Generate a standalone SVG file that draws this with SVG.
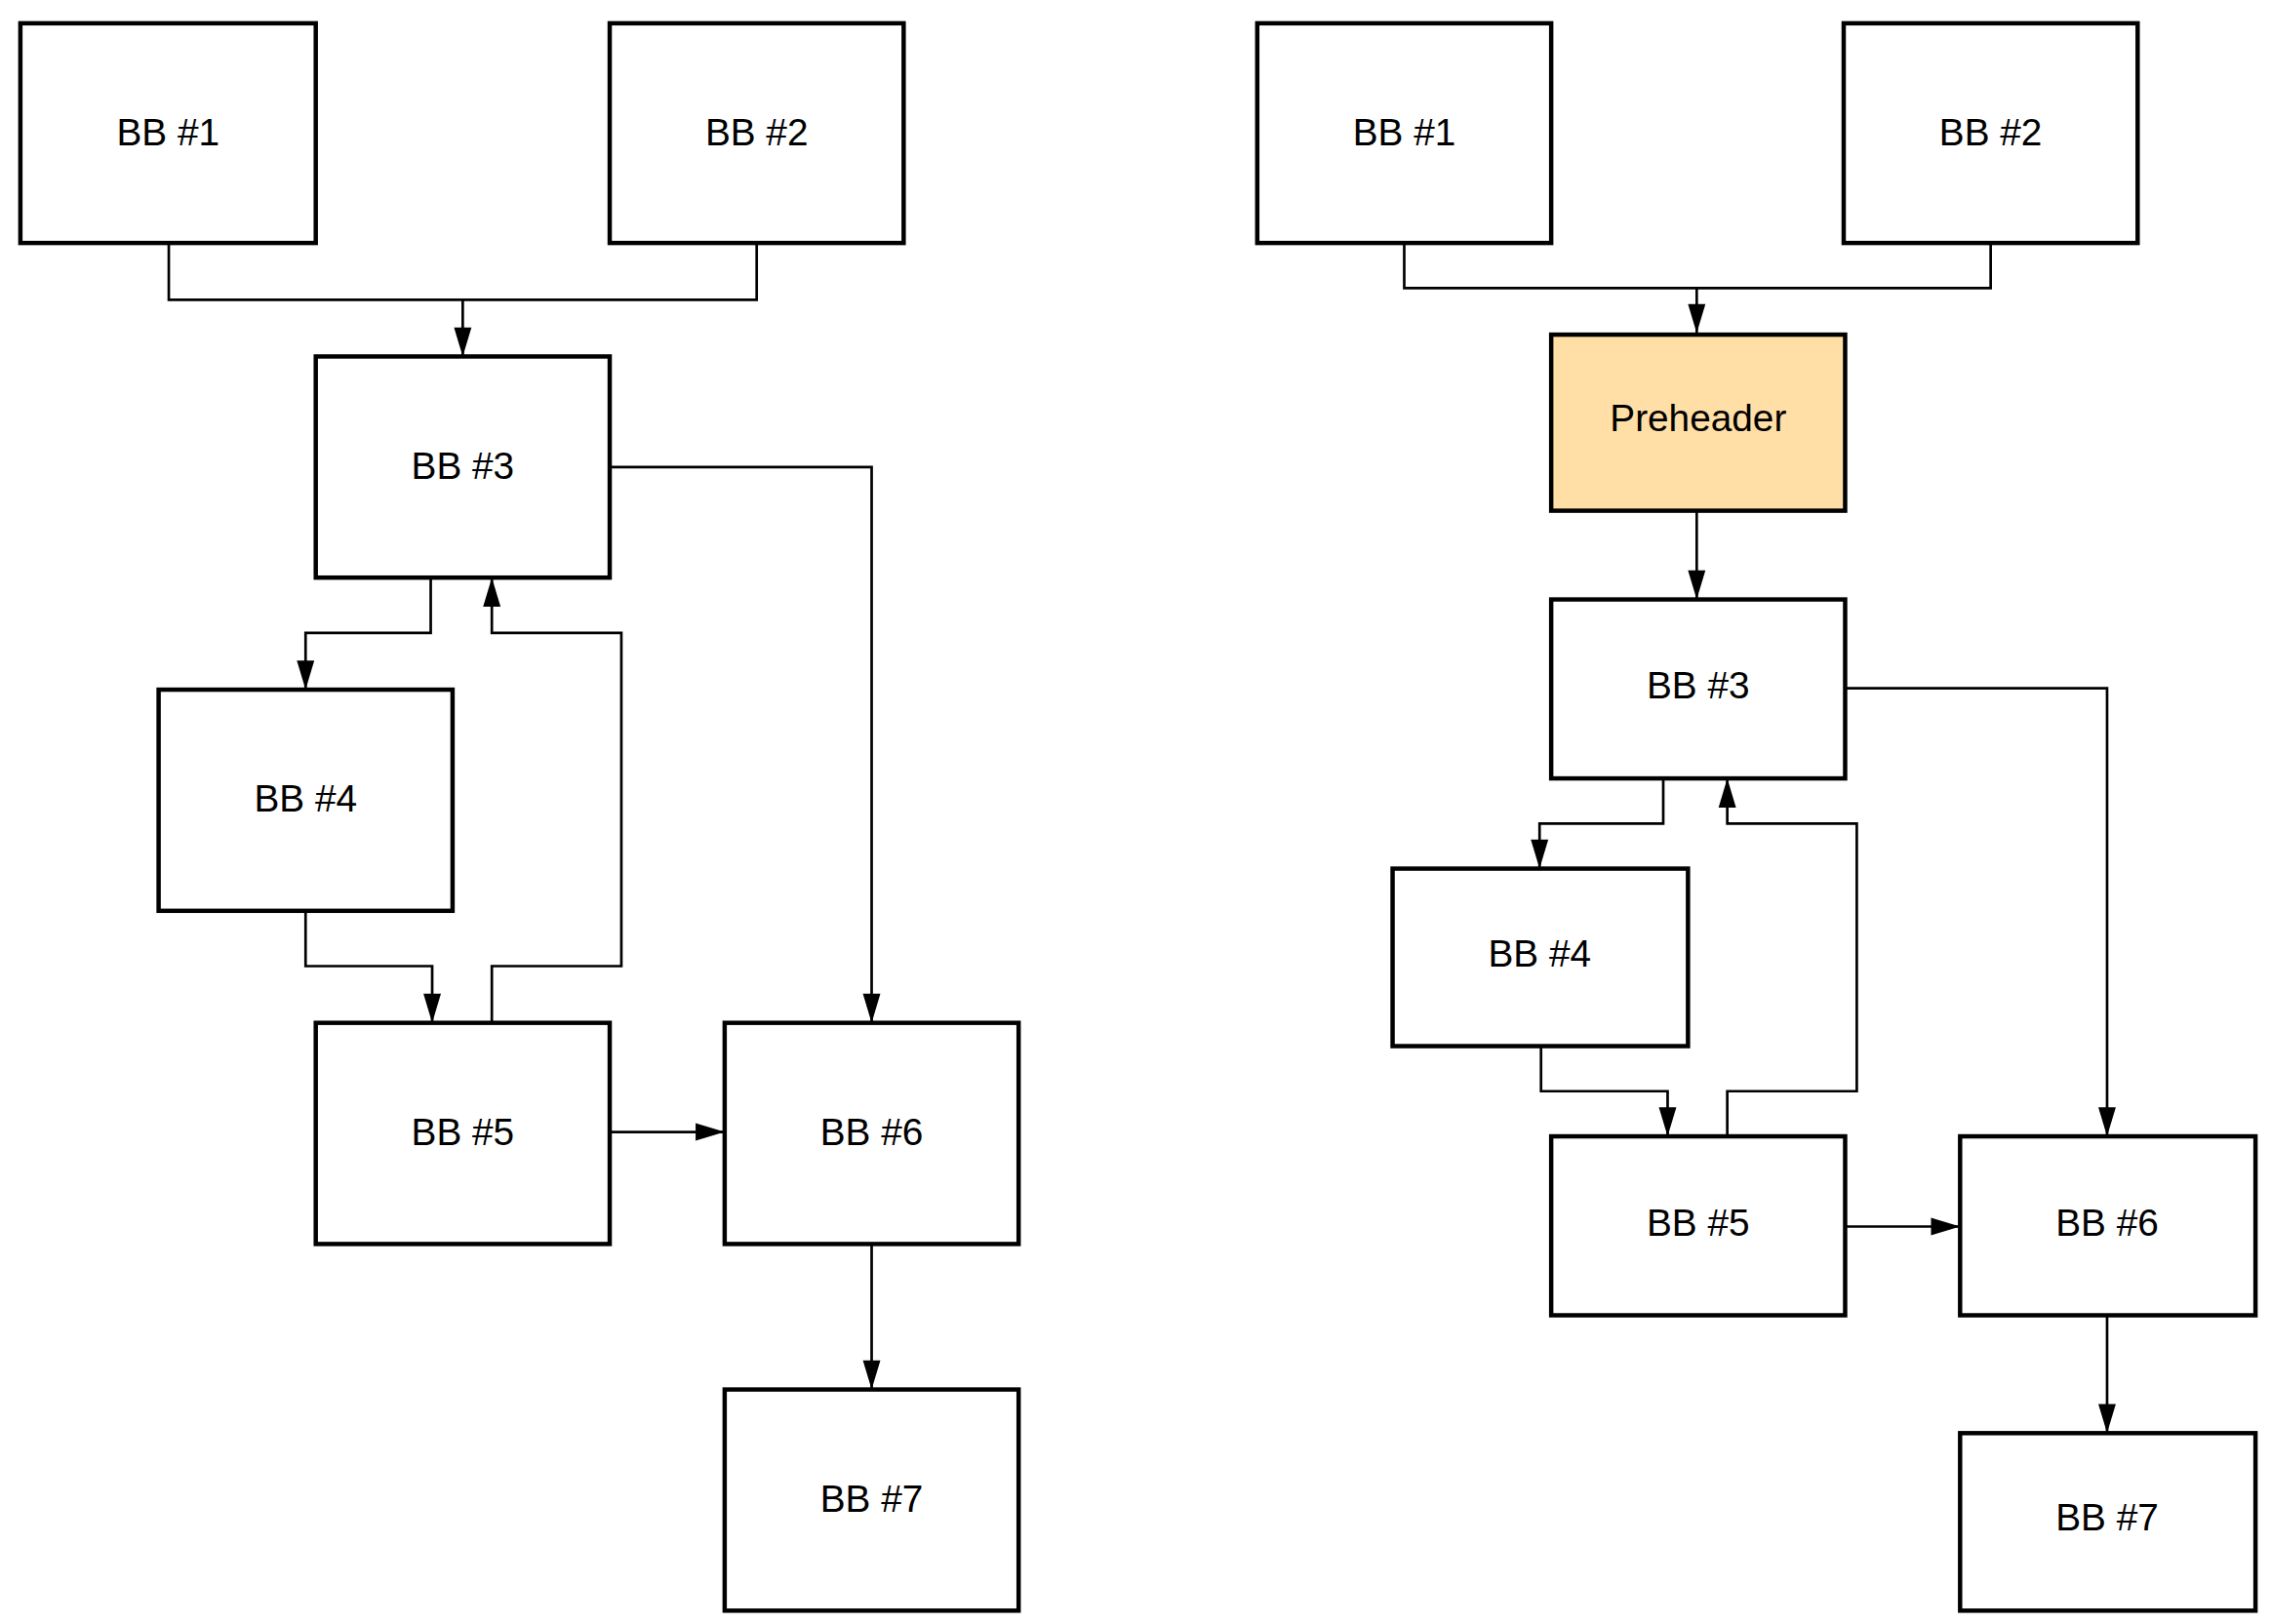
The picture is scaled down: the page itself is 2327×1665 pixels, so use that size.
<svg xmlns="http://www.w3.org/2000/svg" width="2327" height="1665" viewBox="0 0 2327 1665">
<style>
.n rect{fill:#fff;stroke:#000;stroke-width:3}
.n text{font-family:"Liberation Sans",Arial,sans-serif;font-size:26px;text-anchor:middle;dominant-baseline:central;fill:#000}
.c path{fill:none;stroke:#000;stroke-width:1.8}
</style>
<defs>
<marker id="a" markerUnits="userSpaceOnUse" markerWidth="22" markerHeight="14" refX="20" refY="6" orient="auto" overflow="visible">
<path d="M0,0 L20,6 L0,12 Z" fill="#000"/>
</marker>
</defs>
<rect width="2327" height="1665" fill="#fff"/>
<g transform="scale(1.4917)">
<g class="c">
<path d="M116,167 V206 H520 V167"/>
<path d="M318,206 V245" marker-end="url(#a)"/>
<path d="M419,321 H599 V703" marker-end="url(#a)"/>
<path d="M296,397 V435 H210 V474" marker-end="url(#a)"/>
<path d="M210,626 V664 H297 V703" marker-end="url(#a)"/>
<path d="M338,703 V664 H427 V435 H338 V397" marker-end="url(#a)"/>
<path d="M419,778 H498" marker-end="url(#a)"/>
<path d="M599,855 V955" marker-end="url(#a)"/>
<path d="M965,167 V198 H1368 V167"/>
<path d="M1166,198 V229" marker-end="url(#a)"/>
<path d="M1166,351 V412" marker-end="url(#a)"/>
<path d="M1268,473 H1448 V781" marker-end="url(#a)"/>
<path d="M1143,535 V566 H1058 V597" marker-end="url(#a)"/>
<path d="M1059,719 V750 H1146 V781" marker-end="url(#a)"/>
<path d="M1187,781 V750 H1276 V566 H1187 V535" marker-end="url(#a)"/>
<path d="M1268,843 H1347" marker-end="url(#a)"/>
<path d="M1448,904 V985" marker-end="url(#a)"/>
</g>
<g id="l1" class="n"><rect x="14" y="16" width="203" height="151"/><text x="115.5" y="91">BB #1</text></g>
<g id="l2" class="n"><rect x="419" y="16" width="202" height="151"/><text x="520" y="91">BB #2</text></g>
<g id="l3" class="n"><rect x="217" y="245" width="202" height="152"/><text x="318" y="320">BB #3</text></g>
<g id="l4" class="n"><rect x="109" y="474" width="202" height="152"/><text x="210" y="549">BB #4</text></g>
<g id="l5" class="n"><rect x="217" y="703" width="202" height="152"/><text x="318" y="778">BB #5</text></g>
<g id="l6" class="n"><rect x="498" y="703" width="202" height="152"/><text x="599" y="778">BB #6</text></g>
<g id="l7" class="n"><rect x="498" y="955" width="202" height="152"/><text x="599" y="1030">BB #7</text></g>
<g id="r1" class="n"><rect x="864" y="16" width="202" height="151"/><text x="965" y="91">BB #1</text></g>
<g id="r2" class="n"><rect x="1267" y="16" width="202" height="151"/><text x="1368" y="91">BB #2</text></g>
<g id="rp" class="n"><rect x="1066" y="230" width="202" height="121" style="fill:#ffdfa6"/><text x="1167" y="287">Preheader</text></g>
<g id="r3" class="n"><rect x="1066" y="412" width="202" height="123"/><text x="1167" y="471">BB #3</text></g>
<g id="r4" class="n"><rect x="957" y="597" width="203" height="122"/><text x="1058" y="655">BB #4</text></g>
<g id="r5" class="n"><rect x="1066" y="781" width="202" height="123"/><text x="1167" y="840">BB #5</text></g>
<g id="r6" class="n"><rect x="1347" y="781" width="203" height="123"/><text x="1448" y="840">BB #6</text></g>
<g id="r7" class="n"><rect x="1347" y="985" width="203" height="122"/><text x="1448" y="1043">BB #7</text></g>
</g>
</svg>
